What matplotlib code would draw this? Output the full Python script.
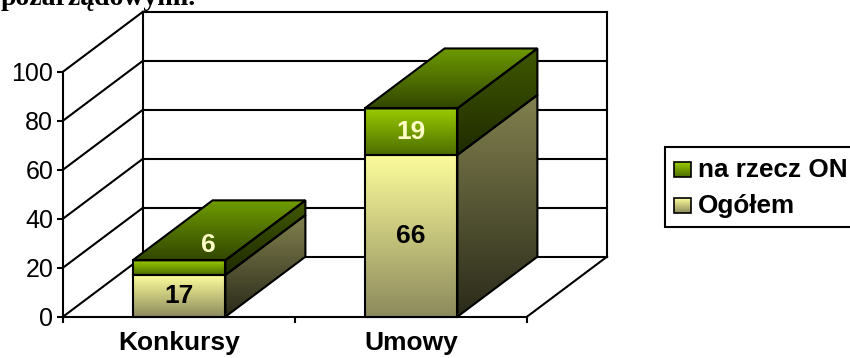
import numpy as np
import matplotlib
matplotlib.use("Agg")
import matplotlib.pyplot as plt
from matplotlib.patches import Polygon, Rectangle
from matplotlib.colors import LinearSegmentedColormap

# ---- data ----
categories = ["Konkursy", "Umowy"]
series_names = ["na rzecz ON", "Ogółem"]
ogolem = [17, 66]
na_rzecz_on = [6, 19]
y_ticks = [0, 20, 40, 60, 80, 100]

# ---- geometry / style ----
W, H, DPI = 850, 358, 100
PX_X = 232.0          # pixels per category unit
PX_Y = 2.45           # pixels per value unit
X0_PX, Y0_PX = 63.0, 316.7
DX = 80.0 / PX_X      # depth offset in data units
DY = 60.0 / PX_Y
HALF = 0.2            # half bar width
LW = 1.5
FONT = "Liberation Sans"

fig = plt.figure(figsize=(W / DPI, H / DPI), dpi=DPI)
ax = fig.add_axes([0, 0, 1, 1])
xlim = (-X0_PX / PX_X, (W - X0_PX) / PX_X)
ylim = (-(H - Y0_PX) / PX_Y, Y0_PX / PX_Y)


def line(x, y, **kw):
    ax.plot(x, y, color="black", lw=LW, solid_capstyle="projecting", zorder=2, **kw)


# back wall, side wall and floor
ax.add_patch(Rectangle((DX, DY), 2, 100, facecolor="white", edgecolor="none", zorder=1))
for v in y_ticks:
    line([DX, 2 + DX], [v + DY, v + DY])
    line([0, DX], [v, v + DY])
line([DX, DX], [DY, 100 + DY])
line([2 + DX, 2 + DX], [DY, 100 + DY])
line([2, 2 + DX], [0, DY])


def face(verts, c_top, c_bot, z):
    poly = Polygon(verts, closed=True, facecolor="none", edgecolor="black",
                   lw=LW, joinstyle="miter", zorder=z + 0.1)
    ax.add_patch(poly)
    xs = [p[0] for p in verts]
    ys = [p[1] for p in verts]
    cmap = LinearSegmentedColormap.from_list("g", [c_bot, c_top])
    im = ax.imshow(np.linspace(0, 1, 256)[:, None], cmap=cmap, origin="lower",
                   extent=(min(xs), max(xs), min(ys), max(ys)), aspect="auto",
                   interpolation="bilinear", zorder=z)
    im.set_clip_path(poly)


yellow_front = ("#fdfd9c", "#8c8a5c")
yellow_side = ("#82814f", "#2a2a1a")
green_front = ("#9acc00", "#4c6c00")
green_side = ("#405800", "#1f2b00")
green_top = ("#6f9c00", "#324700")

for i, cat in enumerate(categories):
    c = i + 0.5
    segs = [(0, ogolem[i], yellow_front, yellow_side),
            (ogolem[i], ogolem[i] + na_rzecz_on[i], green_front, green_side)]
    for y0, y1, fc, sc in segs:
        face([(c - HALF, y0), (c + HALF, y0), (c + HALF, y1), (c - HALF, y1)], *fc, 5)
        face([(c + HALF, y0), (c + HALF + DX, y0 + DY),
              (c + HALF + DX, y1 + DY), (c + HALF, y1)], *sc, 5)
    top = ogolem[i] + na_rzecz_on[i]
    face([(c - HALF, top), (c + HALF, top), (c + HALF + DX, top + DY),
          (c - HALF + DX, top + DY)], *green_top, 5)

    # value labels
    ax.text(c, ogolem[i] / 2, str(ogolem[i]), ha="center", va="center",
            fontsize=19, fontweight="bold", family=FONT, color="black", zorder=10)
    mid = ogolem[i] + na_rzecz_on[i] / 2
    f = 0.0 if na_rzecz_on[i] >= 10 else 0.37
    ax.text(c + f * DX, mid + f * DY, str(na_rzecz_on[i]), ha="center", va="center",
            fontsize=19, fontweight="bold", family=FONT, color="#ffffc8", zorder=10)

# axes: value axis on the front-left edge, category axis along the front baseline
for s in ["top", "right"]:
    ax.spines[s].set_visible(False)
ax.spines["left"].set_position(("data", 0))
ax.spines["bottom"].set_position(("data", 0))
ax.spines["left"].set_bounds(0, 100)
ax.spines["bottom"].set_bounds(0, 2)
for s in ["left", "bottom"]:
    ax.spines[s].set_linewidth(LW)
    ax.spines[s].set_zorder(3)
ax.set_yticks(y_ticks)
ax.set_yticklabels([str(v) for v in y_ticks], family=FONT, fontsize=18)
ax.tick_params(axis="y", direction="out", length=4.5, width=LW, pad=2.5)
ax.set_xticks([0, 1, 2])
ax.set_xticklabels([])
ax.set_xticks([0.5, 1.5], minor=True)
ax.set_xticklabels(categories, minor=True, family=FONT, fontsize=19, fontweight="bold")
ax.tick_params(axis="x", which="major", direction="out", length=4.5, width=LW)
ax.tick_params(axis="x", which="minor", length=0, pad=10)
ax.set_xlim(*xlim)
ax.set_ylim(*ylim)

# heading line above the chart
fig.text(1 / W, 1 - 5 / H, "pozarządowymi.", family="Liberation Serif",
         fontweight="bold", fontsize=20, va="baseline", ha="left")

# legend
lg = fig.add_axes([0, 0, 1, 1], zorder=20)
lg.set_xlim(0, W)
lg.set_ylim(H, 0)
lg.axis("off")
lg.patch.set_visible(False)
lg.add_patch(Rectangle((665, 147), 200, 80, facecolor="white", edgecolor="black",
                       lw=LW, clip_on=False))
entries = [(series_names[0], green_front, 162, 177),
           (series_names[1], yellow_front, 198, 213)]
for name, (ct, cb), ytop, ybase in entries:
    sq = Rectangle((674, ytop), 17, 15, facecolor="none", edgecolor="black", lw=1.2, zorder=3)
    lg.add_patch(sq)
    cmap = LinearSegmentedColormap.from_list("g", [ct, cb])
    im = lg.imshow(np.linspace(0, 1, 64)[:, None], cmap=cmap, origin="upper",
                   extent=(674, 691, ytop + 15, ytop), aspect="auto", zorder=2)
    im.set_clip_path(sq)
    lg.text(698, ybase, name, family=FONT, fontsize=18.8, fontweight="bold",
            va="baseline", ha="left")
lg.set_xlim(0, W)
lg.set_ylim(H, 0)

fig.savefig("out.png", dpi=DPI)
